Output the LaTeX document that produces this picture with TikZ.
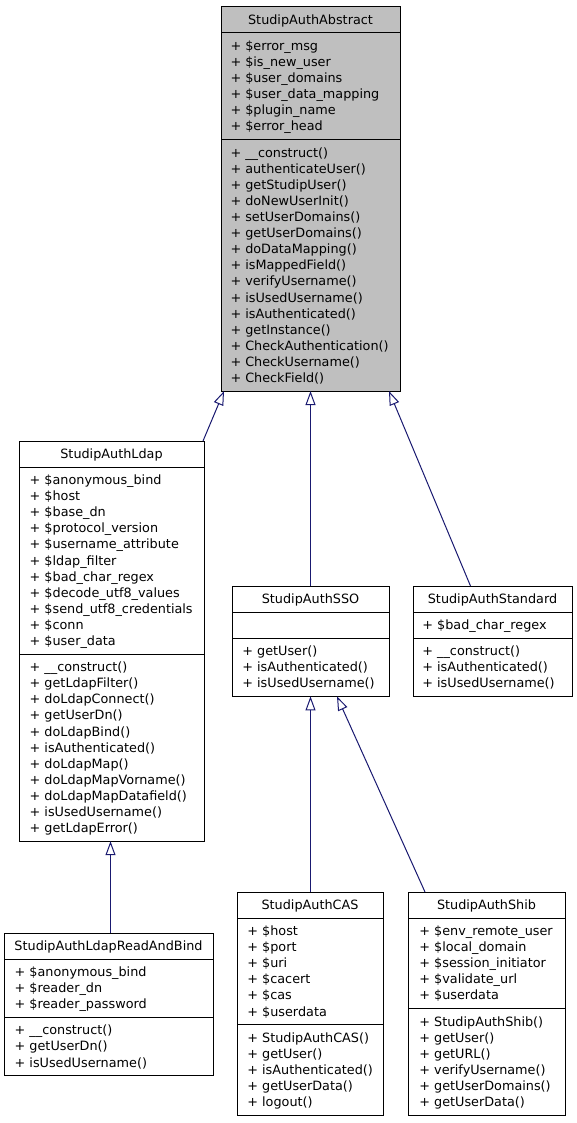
\documentclass[tikz,border=0pt]{standalone}
\usepackage{fontspec}
\setmainfont{DejaVu Sans}
\usetikzlibrary{arrows.meta}
\definecolor{edgeblue}{HTML}{191970}
\definecolor{absgray}{HTML}{BFBFBF}
\tikzset{
  classbox/.style={draw=black, line width=1pt, inner sep=0pt, outer sep=0pt},
  sepline/.style={draw=black, line width=1pt},
  umltext/.style={font=\fontsize{12.8}{16}\selectfont, inner sep=0pt, outer sep=0pt},
  inherit/.style={draw=edgeblue, line width=1pt, -{Triangle[open, length=14pt, width=10pt]}},
}
\def\cfill{white}
\def\toff{10}
\def\lsp{16.1}
% #1 name, #2 L, #3 R, #4 T, #5 title, #6 n attrs, #7 attrs, #8 n methods, #9 methods
\newcommand\umlclass[9]{%
  \pgfmathsetmacro\ya{#4+26}%
  \pgfmathsetmacro\yb{\ya+10+\lsp*#6}%
  \pgfmathsetmacro\yc{\yb+10+\lsp*#8}%
  \node[classbox, fill=\cfill, minimum width={#3-#2}, minimum height={\yc-#4}, anchor=north west] (#1) at (#2,#4) {};
  \node[umltext, anchor=base] (#1-title) at ({(#2+#3)/2}, #4+17.5) {#5};
  \draw[sepline] (#2,\ya) -- (#3,\ya);
  \draw[sepline] (#2,\yb) -- (#3,\yb);
  \foreach \t [count=\i from 0] in {#7} {
    \node[umltext, anchor=base west] (#1-a\i) at (#2+\toff, \ya+17.5+\lsp*\i) {\t};
  }
  \foreach \t [count=\i from 0] in {#9} {
    \node[umltext, anchor=base west] (#1-m\i) at (#2+\toff, \yb+17.5+\lsp*\i) {\t};
  }
}
\begin{document}
\begin{tikzpicture}[x=1pt, y=-1pt]
\useasboundingbox (0,0) rectangle (576,1123);

\def\cfill{absgray}\def\toff{9.5}
\umlclass{abs}{221}{400}{7}{StudipAuthAbstract}{6}{%
+ \$error\_msg,+ \$is\_new\_user,+ \$user\_domains,+ \$user\_data\_mapping,+ \$plugin\_name,+ \$error\_head}{15}{%
+ \_\_construct(),+ authenticateUser(),+ getStudipUser(),+ doNewUserInit(),+ setUserDomains(),+ getUserDomains(),+ doDataMapping(),+ isMappedField(),+ verifyUsername(),+ isUsedUsername(),+ isAuthenticated(),+ getInstance(),+ CheckAuthentication(),+ CheckUsername(),+ CheckField()}

\def\cfill{white}\def\toff{10.7}
\umlclass{ldap}{19}{204}{441}{StudipAuthLdap}{11}{%
+ \$anonymous\_bind,+ \$host,+ \$base\_dn,+ \$protocol\_version,+ \$username\_attribute,+ \$ldap\_filter,+ \$bad\_char\_regex,+ \$decode\_utf8\_values,+ \$send\_utf8\_credentials,+ \$conn,+ \$user\_data}{11}{%
+ \_\_construct(),+ getLdapFilter(),+ doLdapConnect(),+ getUserDn(),+ doLdapBind(),+ isAuthenticated(),+ doLdapMap(),+ doLdapMapVorname(),+ doLdapMapDatafield(),+ isUsedUsername(),+ getLdapError()}

\def\toff{10.4}
\umlclass{sso}{232}{389}{586}{StudipAuthSSO}{1}{}{3}{%
+ getUser(),+ isAuthenticated(),+ isUsedUsername()}

\def\toff{9.4}
\umlclass{std}{413}{572}{586}{StudipAuthStandard}{1}{%
+ \$bad\_char\_regex}{3}{%
+ \_\_construct(),+ isAuthenticated(),+ isUsedUsername()}

\def\toff{10.7}
\umlclass{rab}{4}{213}{933}{StudipAuthLdapReadAndBind}{3}{%
+ \$anonymous\_bind,+ \$reader\_dn,+ \$reader\_password}{3}{%
+ \_\_construct(),+ getUserDn(),+ isUsedUsername()}

\def\toff{10.4}
\umlclass{cas}{237}{383}{892}{StudipAuthCAS}{6}{%
+ \$host,+ \$port,+ \$uri,+ \$cacert,+ \$cas,+ \$userdata}{5}{%
+ StudipAuthCAS(),+ getUser(),+ isAuthenticated(),+ getUserData(),+ logout()}

\def\toff{11.4}
\umlclass{shib}{408}{565}{892}{StudipAuthShib}{5}{%
+ \$env\_remote\_user,+ \$local\_domain,+ \$session\_initiator,+ \$validate\_url,+ \$userdata}{6}{%
+ StudipAuthShib(),+ getUser(),+ getURL(),+ verifyUsername(),+ getUserDomains(),+ getUserData()}

\draw[inherit] ([xshift=-1pt]ldap.north east) -- ([xshift=3pt]abs.south west);
\draw[inherit] (sso.north) -- (abs.south);
\draw[inherit] ([xshift=-22pt]std.north) -- ([xshift=-11pt]abs.south east);
\draw[inherit] ([xshift=2pt]rab.north) -- ([xshift=-1pt]ldap.south);
\draw[inherit] ([xshift=0.5pt]cas.north) -- (sso.south);
\draw[inherit] ([xshift=-61.5pt]shib.north) -- ([xshift=26.5pt]sso.south);
\end{tikzpicture}
\end{document}
